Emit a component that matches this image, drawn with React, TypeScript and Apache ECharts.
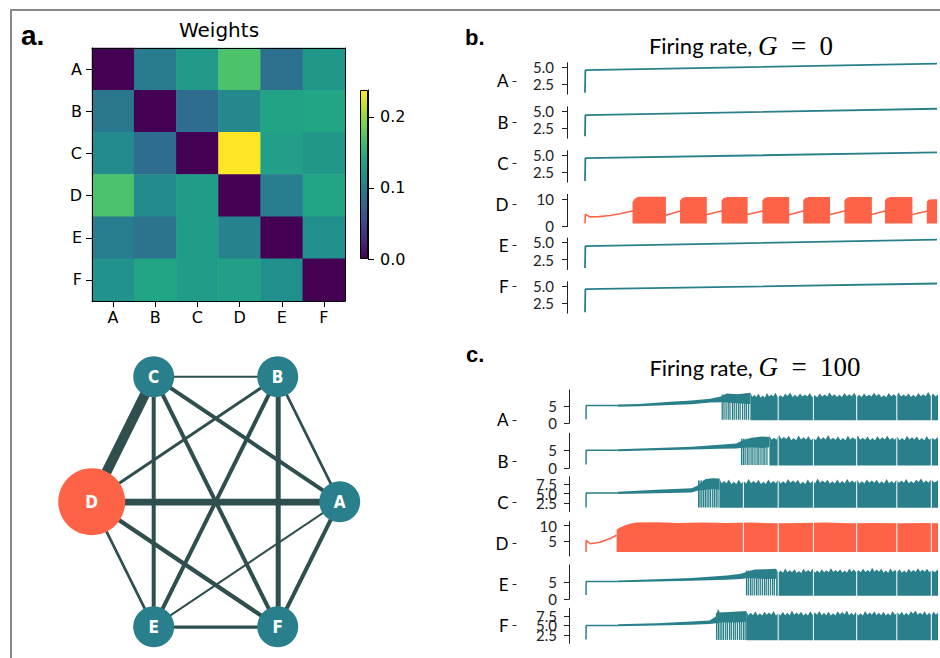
import React, { useEffect, useRef } from "react";
import * as echarts from "echarts";

// ---------------- data ----------------
const LABELS = ["A", "B", "C", "D", "E", "F"];

// panel a: weight matrix rows (A..F) x columns (A..F)
const W_A = [0.0, 0.097, 0.128, 0.17, 0.088, 0.125];
const W_B = [0.095, 0.0, 0.085, 0.11, 0.138, 0.14];
const W_C = [0.113, 0.085, 0.0, 0.238, 0.135, 0.125];
const W_D = [0.17, 0.113, 0.13, 0.0, 0.1, 0.14];
const W_E = [0.1, 0.09, 0.13, 0.105, 0.0, 0.118];
const W_F = [0.12, 0.14, 0.13, 0.135, 0.118, 0.0];
const WEIGHTS = [W_A, W_B, W_C, W_D, W_E, W_F];
const W_MAX = 0.238;
const CBAR_TICKS = [0, 0.1, 0.2];
const VIRIDIS = ["#440154", "#482475", "#414487", "#355f8d", "#2a788e", "#21918c", "#22a884", "#44bf70", "#7ad151", "#bddf26", "#fde725"];

// network layout (hexagon, layout units) and edges [source, target, width]
const NET_X = [124, 62, -62, -124, -62, 62];
const NET_Y = [0, -125, -125, 0, 125, 125];
const NET_SIZE = [41, 41, 41, 67, 41, 41];
const NET_EDGES: [string, string, number][] = [
  ["C", "D", 10], ["D", "A", 6.7], ["B", "F", 5], ["D", "F", 4.3], ["C", "E", 4],
  ["C", "F", 4], ["C", "A", 4], ["B", "E", 4], ["F", "A", 4], ["E", "F", 3.3],
  ["B", "D", 3], ["D", "E", 2.7], ["B", "A", 2.7], ["C", "B", 2], ["E", "A", 2],
];

// panel b (G = 0): time 0..1000
const T_MAX = 1000;
const B_A = [[0, 1.3], [1, 4.53], [1000, 5.48]];
const B_B = [[0, 1.39], [1, 4.41], [1000, 5.31]];
const B_C = [[0, 1.28], [1, 4.54], [1000, 5.35]];
const B_E = [[0, 1.3], [1, 4.44], [1000, 5.37]];
const B_F = [[0, 1.22], [1, 4.53], [1000, 5.34]];
const B_D_LINE = [[0, 0.9], [1, 4.4], [14, 3.4], [40, 3.5], [71, 3.9], [100, 4.6], [134, 5.6], [230, 4.0], [270, 5.6], [346, 4.3], [388, 5.6], [462, 4.3], [504, 5.6], [580, 4.2], [620, 5.6], [696, 4.3], [737, 5.6], [815, 4.3], [852, 5.6], [930, 4.3], [971, 5.5], [1000, 5.7]];
// bursts: [start, end, top at start, top plateau]
const B_D_BURSTS = [[135, 230, 8.8, 11.0], [270, 346, 9.6, 10.9], [388, 462, 9.6, 10.9], [504, 580, 9.6, 10.9], [620, 696, 9.6, 10.9], [737, 815, 9.6, 10.9], [852, 930, 9.6, 10.9], [971, 1000, 9.2, 10.0]];
const B_D_LOW = 0.9;

// panel c (G = 100)
const C_GAPS = [447, 546, 646, 769, 883, 981];
const C_A_BASE = [[0, 1.15], [0.5, 5.1], [90, 5.1]];
const C_A_BAND = [[90, 4.8, 5.4], [150, 4.95, 5.6], [240, 5.25, 6.2], [300, 5.5, 6.6], [353, 6.0, 7.1], [386, 6.1, 7.8], [400, 6.0, 8.6], [430, 5.8, 8.4], [467, 5.6, 8.8]];
const C_A_SPIKES = [387, 392, 398, 404, 409, 416, 421, 427, 433, 438, 445, 451, 456, 462];
const C_A_LOW = 0.9;
const C_A_TOP = [[467, 8.9], [478, 8.2], [490, 8.6], [502, 8.0], [514, 8.7], [526, 8.3], [538, 8.8], [552, 8.1], [566, 8.5], [580, 8.9], [594, 8.2], [608, 8.6], [622, 8.3], [636, 8.7], [650, 8.1], [664, 8.6], [678, 8.3], [692, 8.9], [706, 8.4], [720, 8.2], [734, 8.7], [748, 8.4], [762, 8.8], [776, 8.2], [790, 8.6], [804, 8.3], [818, 8.8], [832, 8.5], [846, 8.1], [860, 8.7], [874, 8.4], [888, 8.9], [902, 8.3], [916, 8.6], [930, 8.2], [944, 8.7], [958, 8.4], [972, 9.0], [986, 8.5], [1000, 8.3]];

const C_B_BASE = [[0, 1.05], [0.5, 5.0], [90, 5.0]];
const C_B_BAND = [[90, 4.75, 5.3], [200, 5.0, 5.6], [300, 5.2, 6.0], [380, 5.4, 6.5], [427, 5.5, 6.9], [441, 5.6, 7.6], [470, 5.8, 8.5], [500, 5.6, 8.8], [521, 5.8, 8.7]];
const C_B_SPIKES = [442, 447, 452, 458, 463, 469, 474, 480, 486, 491, 497, 503, 508, 514];
const C_B_LOW = 0.8;
const C_B_TOP = [[521, 9.0], [534, 8.5], [548, 9.3], [562, 8.7], [576, 9.0], [590, 8.4], [604, 9.1], [618, 8.6], [632, 8.9], [646, 8.4], [660, 9.0], [674, 8.6], [688, 9.2], [702, 8.5], [716, 8.8], [730, 8.4], [744, 9.0], [758, 8.6], [772, 9.1], [786, 8.5], [800, 8.8], [814, 8.4], [828, 8.9], [842, 8.6], [856, 9.0], [870, 8.5], [884, 8.8], [898, 8.4], [912, 9.0], [926, 8.6], [940, 8.8], [954, 8.4], [968, 8.9], [982, 8.5], [1000, 8.7]];

const C_C_BASE = [[0, 1.4], [0.5, 5.15], [90, 5.15]];
const C_C_BAND = [[90, 4.9, 5.5], [200, 5.1, 6.0], [300, 5.3, 6.4], [319, 5.8, 7.2], [340, 6.0, 8.8], [360, 6.2, 9.0], [379, 6.0, 8.9]];
const C_C_SPIKES = [320, 324, 329, 334, 339, 344, 349, 354, 360, 365, 370, 375];
const C_C_LOW = 1.3;
const C_C_TOP = [[379, 8.9], [392, 8.3], [406, 8.7], [420, 8.1], [434, 8.6], [448, 8.2], [462, 8.8], [476, 8.3], [490, 8.6], [504, 8.1], [518, 8.7], [532, 8.3], [546, 8.6], [560, 8.2], [574, 8.8], [588, 8.4], [602, 8.6], [616, 8.1], [630, 8.7], [644, 8.3], [658, 8.9], [672, 8.4], [686, 8.6], [700, 8.2], [714, 8.7], [728, 8.3], [742, 8.8], [756, 8.4], [770, 8.6], [784, 8.2], [798, 8.7], [812, 8.4], [826, 8.6], [840, 8.2], [854, 8.8], [868, 8.3], [882, 8.6], [896, 8.4], [910, 8.8], [924, 8.3], [938, 8.6], [952, 8.9], [966, 8.4], [980, 8.7], [1000, 8.5]];

const C_D_LINE = [[0, 1.4], [0.5, 5.2], [12, 4.1], [40, 4.6], [70, 5.9], [87, 6.9]];
const C_D_LOW = 1.4;
const C_D_TOP = [[87, 8.6], [95, 9.3], [110, 10.1], [125, 10.6], [142, 11.0], [200, 11.1], [260, 10.9], [330, 11.0], [400, 10.9], [470, 11.0], [540, 10.8], [610, 10.9], [680, 11.0], [750, 10.8], [820, 10.9], [890, 10.8], [960, 10.9], [1000, 10.8]];

const C_E_BASE = [[0, 1.2], [0.5, 5.1], [90, 5.1]];
const C_E_BAND = [[90, 4.85, 5.35], [200, 5.1, 5.7], [300, 5.3, 6.1], [400, 5.6, 6.8], [440, 5.8, 7.3], [455, 6.0, 7.8], [480, 6.0, 8.5], [510, 5.8, 8.6], [540, 5.9, 8.7]];
const C_E_SPIKES = [456, 461, 467, 472, 478, 484, 489, 495, 501, 507, 512, 518, 524, 530, 535];
const C_E_LOW = 1.0;
const C_E_TOP = [[540, 8.7], [553, 8.2], [566, 8.8], [579, 8.3], [592, 8.6], [605, 8.1], [618, 8.7], [631, 8.4], [644, 8.8], [657, 8.2], [670, 8.6], [683, 8.3], [696, 8.9], [709, 8.4], [722, 8.6], [735, 8.2], [748, 8.8], [761, 8.5], [774, 8.3], [787, 8.7], [800, 8.4], [813, 9.0], [826, 8.5], [839, 8.7], [852, 8.2], [865, 8.8], [878, 8.4], [891, 8.6], [904, 8.2], [917, 8.7], [930, 8.4], [943, 8.9], [956, 8.5], [969, 8.7], [982, 8.3], [1000, 8.6]];

const C_F_BASE = [[0, 1.3], [0.5, 5.0], [90, 5.0]];
const C_F_BAND = [[90, 4.75, 5.3], [200, 5.0, 5.6], [300, 5.2, 6.0], [351, 5.4, 6.3], [370, 5.6, 7.4], [375, 5.6, 9.4], [380, 5.8, 8.4], [420, 5.8, 8.6], [455, 5.9, 8.8]];
const C_F_SPIKES = [371, 376, 381, 386, 391, 397, 402, 408, 413, 419, 424, 430, 436, 441, 447, 452];
const C_F_LOW = 1.1;
const C_F_TOP = [[455, 8.8], [468, 8.3], [481, 8.7], [494, 8.2], [507, 8.6], [520, 8.4], [533, 8.8], [546, 8.2], [559, 8.6], [572, 8.3], [585, 8.9], [598, 8.4], [611, 8.6], [624, 8.2], [637, 8.7], [650, 8.4], [663, 8.8], [676, 8.3], [689, 8.6], [702, 8.2], [715, 8.7], [728, 8.5], [741, 8.9], [754, 8.3], [767, 8.6], [780, 8.2], [793, 8.8], [806, 8.4], [819, 8.7], [832, 8.3], [845, 8.6], [858, 8.2], [871, 8.8], [884, 8.4], [897, 8.6], [910, 8.3], [923, 8.7], [936, 8.9], [949, 8.4], [962, 8.7], [975, 8.3], [988, 8.6], [1000, 8.4]];

// ---------------- styles ----------------
const TEAL = "#2a808a";
const NODE_TEAL = "#2a7f8c";
const TOMATO = "#ff6347";
const EDGE = "#2f4f4f";
const MPL = "'DejaVu Sans', sans-serif";
const HUM = "Lato, 'Open Sans', sans-serif";
const SERIF = "'Liberation Serif', 'DejaVu Serif', serif";

// filled envelope between lo and hi; if jagged, the top edge is drawn with sharp notches between samples
function polygon(xi: number, yi: number, pts: number[][], color: string, jagged = false) {
  return {
    type: "custom", xAxisIndex: xi, yAxisIndex: yi, silent: true,
    data: [[pts[0][0], pts[0][1]]],
    renderItem: (_p: any, api: any) => {
      const top: number[][] = [];
      pts.forEach((p, k) => {
        top.push(api.coord([p[0], p[2]]));
        if (jagged && k < pts.length - 1) {
          const q = pts[k + 1];
          top.push(api.coord([(p[0] + q[0]) / 2, Math.min(p[2], q[2]) - 0.6]));
        }
      });
      const bot = pts.slice().reverse().map((p) => api.coord([p[0], p[1]]));
      return { type: "polygon", shape: { points: top.concat(bot) }, style: { fill: color } };
    },
  };
}

function vlines(xi: number, yi: number, items: number[][], color: string, width: number) {
  return {
    type: "custom", xAxisIndex: xi, yAxisIndex: yi, silent: true,
    data: items,
    renderItem: (_p: any, api: any) => {
      const a = api.coord([api.value(0), api.value(1)]);
      const b = api.coord([api.value(0), api.value(2)]);
      return { type: "line", shape: { x1: a[0], y1: a[1], x2: b[0], y2: b[1] }, style: { stroke: color, lineWidth: width } };
    },
  };
}

function buildOption() {
  const grid: any[] = [];
  const xAxis: any[] = [];
  const yAxis: any[] = [];
  const series: any[] = [];
  const addGrid = (g: any) => { grid.push(g); return grid.length - 1; };
  const addX = (a: any) => { xAxis.push(a); return xAxis.length - 1; };
  const addY = (a: any) => { yAxis.push(a); return yAxis.length - 1; };
  const blackLine = { show: true, onZero: false, lineStyle: { color: "#000", width: 1 } };

  // ---- heatmap ----
  const gH = addGrid({ left: 92, top: 48, width: 253, height: 253 });
  const hx = addX({ type: "category", gridIndex: gH, data: LABELS, z: 5, axisLine: blackLine,
    axisTick: { show: true, alignWithLabel: true, length: 6, lineStyle: { color: "#000" } },
    axisLabel: { fontSize: 16, color: "#000", margin: 8, fontFamily: MPL }, splitLine: { show: false } });
  addX({ type: "category", gridIndex: gH, data: LABELS, position: "top", z: 5, axisLine: blackLine,
    axisTick: { show: false }, axisLabel: { show: false } });
  const hy = addY({ type: "category", gridIndex: gH, data: LABELS, inverse: true, z: 5, axisLine: blackLine,
    axisTick: { show: true, alignWithLabel: true, length: 6, lineStyle: { color: "#000" } },
    axisLabel: { fontSize: 16, color: "#000", margin: 10, fontFamily: MPL }, splitLine: { show: false } });
  addY({ type: "category", gridIndex: gH, data: LABELS, inverse: true, position: "right", z: 5, axisLine: blackLine,
    axisTick: { show: false }, axisLabel: { show: false } });
  const heat: number[][] = [];
  WEIGHTS.forEach((row, i) => row.forEach((v, j) => heat.push([j, i, v])));
  series.push({ type: "heatmap", xAxisIndex: hx, yAxisIndex: hy, data: heat, silent: true, emphasis: { disabled: true } });

  // ---- colorbar ----
  const gC = addGrid({ left: 360, top: 90, width: 8, height: 169 });
  const cx = addX({ type: "category", gridIndex: gC, data: [""], show: false });
  const cy = addY({ type: "value", gridIndex: gC, min: 0, max: W_MAX, position: "right", z: 5,
    axisLine: blackLine,
    axisTick: { show: true, length: 6, customValues: CBAR_TICKS, lineStyle: { color: "#000" } },
    axisLabel: { customValues: CBAR_TICKS, formatter: (v: number) => v.toFixed(1), fontSize: 16, color: "#000", margin: 12, fontFamily: MPL },
    splitLine: { show: false } });
  series.push({ type: "bar", xAxisIndex: cx, yAxisIndex: cy, data: [W_MAX], barWidth: "100%", silent: true,
    itemStyle: { borderColor: "#000", borderWidth: 1,
      color: new echarts.graphic.LinearGradient(0, 1, 0, 0, VIRIDIS.map((c, i) => ({ offset: i / (VIRIDIS.length - 1), color: c }))) } });

  // ---- row-label grids ----
  const labelGrid = (top: number) => {
    const g = addGrid({ left: 516.5, top, width: 1, height: 246.8 });
    addX({ type: "value", gridIndex: g, show: false });
    addY({ type: "category", gridIndex: g, data: LABELS, inverse: true, axisLine: { show: false },
      axisTick: { show: true, alignWithLabel: true, length: 4, lineStyle: { color: "#222" } },
      axisLabel: { fontSize: 17, color: "#000", margin: 8, fontFamily: HUM }, splitLine: { show: false } });
  };
  labelGrid(60.4);
  labelGrid(399.4);

  // rows: main axis draws line + ticks + first label set, extra axes draw further (overlapping) labels
  const rowAxes = (top: number, height: number, left: number, right: number, min: number, max: number,
    ticks: number[], labelSets: number[][], dec: number, offset: number, margin: number) => {
    const g = addGrid({ left, right, top, height });
    const xi = addX({ type: "value", gridIndex: g, min: 0, max: T_MAX, show: false });
    let yi = -1;
    labelSets.forEach((labels, k) => {
      const idx = addY({ type: "value", gridIndex: g, min, max, offset, position: "left",
        axisLine: { show: k === 0, onZero: false, lineStyle: { color: "#222", width: 1 } },
        axisTick: { show: k === 0, length: 5, customValues: ticks, lineStyle: { color: "#222" } },
        axisLabel: { customValues: labels, hideOverlap: false, formatter: (v: number) => v.toFixed(dec), fontSize: 15, color: "#222", margin, fontFamily: HUM },
        splitLine: { show: false } });
      if (k === 0) yi = idx;
    });
    return [xi, yi];
  };
  const line = (xi: number, yi: number, data: number[][], color: string, width: number) => ({
    type: "line", xAxisIndex: xi, yAxisIndex: yi, data, showSymbol: false, symbol: "none", silent: true,
    lineStyle: { color, width }, z: 3 });

  // ---- panel b ----
  const bTops = [62.7, 106.7, 150.7, 194.3, 238, 281.7];
  const bTeal = [B_A, B_B, B_C, null, B_E, B_F];
  bTops.forEach((top, i) => {
    if (i === 3) {
      const [xi, yi] = rowAxes(top, 32.4, 585, 3, -0.3, 11.9, [0, 10], [[0, 10]], 0, 18, 13);
      series.push(line(xi, yi, B_D_LINE, TOMATO, 1.6));
      B_D_BURSTS.forEach((b) => {
        series.push(polygon(xi, yi, [[b[0], B_D_LOW, b[2]], [b[0] + 6, B_D_LOW, (b[2] + b[3]) / 2 + 0.3], [b[0] + 16, B_D_LOW, b[3]], [b[1], B_D_LOW, b[3]]], TOMATO));
      });
    } else {
      const [xi, yi] = rowAxes(top, 31.5, 585, 3, 1.1, 5.6, [2.5, 5.0], [[2.5, 5.0]], 1, 18, 13);
      series.push(line(xi, yi, bTeal[i] as number[][], TEAL, 1.8));
    }
  });

  // ---- panel c ----
  const cTops = [390, 433.3, 476.7, 521.7, 565, 608.3];
  const cHeights = [33.3, 35, 35, 34.3, 34.3, 35];
  const cRanges = [[0, 9.6], [0, 9.7], [0.3, 9.4], [0.1, 11.3], [0, 9.8], [0.3, 9.5]];
  const cTicks = [[0, 5], [0, 5], [2.5, 5, 7.5], [5, 10], [0, 5], [2.5, 5, 7.5]];
  const cLabelSets = [[[0, 5]], [[0, 5]], [[5], [2.5], [7.5]], [[5, 10]], [[0, 5]], [[5], [2.5], [7.5]]];
  const cDec = [0, 0, 1, 0, 0, 1];
  const cTeal = [
    [C_A_BASE, C_A_BAND, C_A_SPIKES, C_A_LOW, C_A_TOP],
    [C_B_BASE, C_B_BAND, C_B_SPIKES, C_B_LOW, C_B_TOP],
    [C_C_BASE, C_C_BAND, C_C_SPIKES, C_C_LOW, C_C_TOP],
    null,
    [C_E_BASE, C_E_BAND, C_E_SPIKES, C_E_LOW, C_E_TOP],
    [C_F_BASE, C_F_BAND, C_F_SPIKES, C_F_LOW, C_F_TOP],
  ];
  cTops.forEach((top, i) => {
    const [xi, yi] = rowAxes(top, cHeights[i], 586, 2, cRanges[i][0], cRanges[i][1], cTicks[i], cLabelSets[i], cDec[i], 17, 12);
    if (i === 3) {
      series.push(line(xi, yi, C_D_LINE, TOMATO, 1.6));
      series.push(polygon(xi, yi, C_D_TOP.map((p) => [p[0], C_D_LOW, p[1]]), TOMATO));
      series.push(vlines(xi, yi, C_GAPS.filter((g) => g > C_D_TOP[0][0]).map((g) => [g, C_D_LOW - 0.2, 11.4]), "#fff", 1));
    } else {
      const [base, band, spikes, low, topEnv] = cTeal[i] as any[];
      series.push(line(xi, yi, base, TEAL, 1.5));
      series.push(polygon(xi, yi, band, TEAL));
      const spikeTop = band[band.length - 1][2];
      series.push(vlines(xi, yi, spikes.map((t: number) => [t, low + 0.1, spikeTop - 0.5]), TEAL, 1.3));
      series.push(polygon(xi, yi, topEnv.map((p: number[]) => [p[0], low, p[1]]), TEAL, true));
      series.push(vlines(xi, yi, C_GAPS.filter((g) => g > topEnv[0][0]).map((g) => [g, low - 0.2, 9.6]), "#fff", 1));
    }
  });

  // ---- network ----
  series.push({
    type: "graph", layout: "none", left: 91.7, top: 376.7, width: 248, height: 250, roam: false, silent: true,
    data: LABELS.map((n, i) => ({ name: n, x: NET_X[i], y: NET_Y[i], symbolSize: NET_SIZE[i],
      itemStyle: { color: n === "D" ? TOMATO : NODE_TEAL } })),
    links: NET_EDGES.map(([s, t, w]) => ({ source: s, target: t, lineStyle: { width: w } })),
    lineStyle: { color: EDGE, opacity: 1, curveness: 0 },
    label: { show: true, position: "inside", color: "#fff", fontWeight: "bold", fontSize: 17,
      fontFamily: "'DejaVu Sans Condensed', 'DejaVu Sans', sans-serif" },
    emphasis: { disabled: true },
  });

  const txt = (text: string, x: number, y: number, font: string, align = "left") => ({
    type: "text", x, y, silent: true,
    style: { text, font, fill: "#000", align, textAlign: align, verticalAlign: "middle", textVerticalAlign: "middle" },
  });
  const title = (x: number, y: number, g: string) => ({
    type: "text", x, y, silent: true,
    style: {
      text: `{s|Firing rate, }{g|G}{m|\u2002=\u2002${g}}`,
      align: "center", textAlign: "center", verticalAlign: "middle", textVerticalAlign: "middle", fill: "#000",
      rich: {
        s: { fontSize: 22, fontFamily: HUM, fill: "#000" },
        g: { fontSize: 27, fontFamily: SERIF, fontStyle: "italic", fill: "#000" },
        m: { fontSize: 27, fontFamily: SERIF, fill: "#000" },
      },
    },
  });

  const graphic = [
    { type: "rect", silent: true, shape: { x: 11, y: 10, width: 1000, height: 1000 }, style: { fill: "none", stroke: "#888", lineWidth: 2 } },
    txt("a.", 21, 35.2, "bold 28px 'Liberation Sans', Arial, sans-serif"),
    txt("b.", 465, 37.3, "bold 22px 'Liberation Sans', Arial, sans-serif"),
    txt("c.", 466, 354.3, "bold 22px 'Liberation Sans', Arial, sans-serif"),
    txt("Weights", 219, 30.4, `20px ${MPL}`, "center"),
    title(741, 45.5, "0"),
    title(755, 367, "100"),
  ];

  return {
    animation: false,
    backgroundColor: "#fff",
    textStyle: { fontFamily: MPL },
    grid, xAxis, yAxis, series, graphic,
    visualMap: { type: "continuous", min: 0, max: W_MAX, show: false, seriesIndex: 0, dimension: 2, inRange: { color: VIRIDIS } },
  };
}

export default function App() {
  const ref = useRef<HTMLDivElement>(null);
  useEffect(() => {
    const chart = echarts.init(ref.current!, null, { renderer: "svg" });
    chart.setOption(buildOption() as any);
    return () => chart.dispose();
  }, []);
  return <div ref={ref} style={{ position: "fixed", left: 0, top: 0, width: 940, height: 658, background: "#fff" }} />;
}
